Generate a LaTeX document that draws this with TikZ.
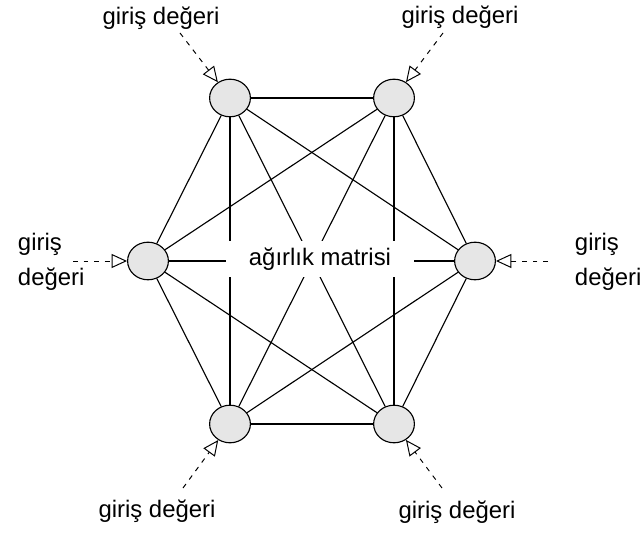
\documentclass[tikz,border=0pt]{standalone}
\usepackage{fontspec}
\setmainfont{Liberation Sans}
\usetikzlibrary{arrows.meta,shapes.geometric}
\definecolor{n1}{HTML}{E6E6E6}

\begin{document}
\begin{tikzpicture}[neuron/.style={ellipse,draw,fill=n1,line width=0.8pt,minimum width=1.02cm,minimum height=0.94cm,inner sep=0pt},
  giris/.style={font=\fontsize{17}{25}\selectfont},
  input/.style={dash pattern=on 3.5pt off 4pt,line width=0.7pt,-{Triangle[open,length=11pt,width=10pt]}},
  link/.style={line width=0.8pt}]
\useasboundingbox (0,0) rectangle (16,13.45);

% the six neurons
\node[neuron] (tl) at (5.75, 11.0) {};
\node[neuron] (tr) at (9.85, 11.0) {};
\node[neuron] (l) at (3.7, 6.925) {};
\node[neuron] (r) at (11.875, 6.925) {};
\node[neuron] (bl) at (5.75, 2.85) {};
\node[neuron] (br) at (9.85, 2.85) {};

% every neuron is linked to every other one
\draw[link] (tl) -- (tr);
\draw[link] (tl) -- (l);
\draw[link] (tl) -- (r);
\draw[link] (tl) -- (bl);
\draw[link] (tl) -- (br);
\draw[link] (tr) -- (l);
\draw[link] (tr) -- (r);
\draw[link] (tr) -- (bl);
\draw[link] (tr) -- (br);
\draw[link] (l) -- (r);
\draw[link] (l) -- (bl);
\draw[link] (l) -- (br);
\draw[link] (r) -- (bl);
\draw[link] (r) -- (br);
\draw[link] (bl) -- (br);

\node[giris,fill=white,minimum width=4.7cm,minimum height=0.9cm] (w) at (8.0, 6.975) {ağırlık matrisi};

% inputs
\node[giris] (itl) at (4.025, 13.0) {giriş değeri};
\node[giris] (itr) at (11.5, 13.025) {giriş değeri};
\node[giris,align=left,anchor=west] (il) at (0.325, 6.9) {giriş\\değeri};
\node[giris,align=left,anchor=west] (ir) at (14.25, 6.9) {giriş\\değeri};
\node[giris] (ibl) at (3.925, 0.675) {giriş değeri};
\node[giris] (ibr) at (11.425, 0.65) {giriş değeri};

\coordinate (stl) at (4.5, 12.625);
\coordinate (str) at (11.075, 12.625);
\coordinate (sl) at (1.825, 6.925);
\coordinate (sr) at (13.7, 6.925);
\coordinate (sbl) at (4.575, 1.25);
\coordinate (sbr) at (11.05, 1.25);
\draw[input] (stl) -- (tl);
\draw[input] (str) -- (tr);
\draw[input] (sl) -- (l);
\draw[input] (sr) -- (r);
\draw[input] (sbl) -- (bl);
\draw[input] (sbr) -- (br);
\end{tikzpicture}
\end{document}
